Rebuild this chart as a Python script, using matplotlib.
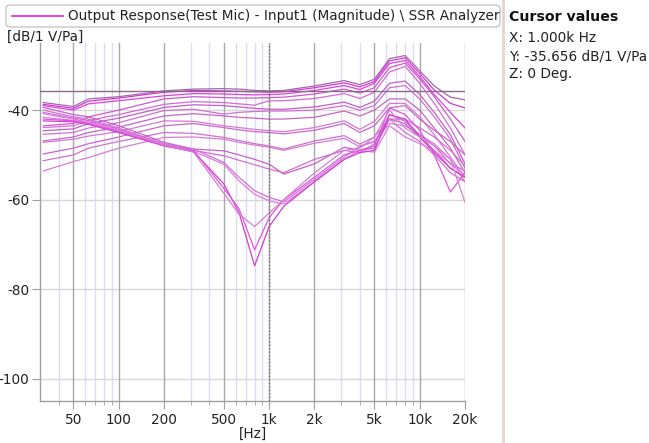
import matplotlib
matplotlib.use("Agg")
import matplotlib.pyplot as plt
from matplotlib.patches import FancyBboxPatch
from matplotlib.lines import Line2D
import numpy as np

W, H = 649, 443
freqs = [31.5, 50, 63, 100, 200, 315, 500, 630, 800, 1000, 1250, 2000, 3150,
         4000, 5000, 6300, 8000, 10000, 12500, 16000, 20000]

# upper family
A1 = [-38.3, -39.2, -37.5, -37.0, -35.7, -35.3, -35.2, -35.3, -35.6, -35.7, -35.6, -34.6, -33.4, -34.3, -33.1, -28.5, -27.8, -31.2, -34.6, -37.1, -37.7]
A2 = [-38.7, -39.6, -38.0, -37.3, -36.0, -35.6, -35.7, -35.8, -35.9, -36.0, -35.9, -35.0, -33.9, -34.8, -33.6, -29.0, -28.3, -31.8, -35.5, -38.5, -39.5]
A3 = [-39.0, -40.0, -38.6, -37.9, -36.8, -36.3, -36.4, -36.5, -36.6, -36.5, -36.4, -35.6, -34.5, -35.4, -34.0, -29.6, -28.9, -32.5, -36.5, -40.5, -44.0]
A4 = [-43.5, -43.0, -41.5, -40.0, -37.5, -37.0, -37.2, -37.3, -37.3, -37.2, -37.1, -36.4, -35.3, -36.2, -35.0, -30.5, -29.5, -33.0, -37.0, -42.0, -47.0]
A5 = [-43.9, -43.5, -42.3, -41.0, -38.7, -38.1, -38.3, -38.6, -38.9, -37.9, -37.9, -37.4, -36.3, -37.4, -36.0, -31.5, -30.2, -34.0, -38.5, -44.0, -50.0]
A6 = [-44.6, -44.2, -43.0, -41.8, -39.4, -38.8, -39.0, -39.3, -39.6, -39.8, -39.8, -39.3, -38.2, -39.4, -38.0, -34.0, -33.5, -36.5, -40.5, -45.5, -52.0]
A7 = [-45.4, -45.0, -44.0, -42.8, -40.1, -39.8, -40.9, -40.5, -40.3, -40.2, -40.2, -40.0, -39.0, -40.0, -39.0, -35.0, -34.5, -37.5, -41.5, -46.5, -53.0]
A8 = [-46.9, -46.0, -45.0, -43.8, -41.3, -40.8, -41.3, -41.6, -41.8, -42.0, -42.0, -41.6, -40.2, -41.3, -40.0, -37.5, -37.5, -40.0, -44.0, -48.5, -54.0]
A9 = [-47.2, -46.5, -45.8, -44.8, -42.4, -42.5, -43.5, -43.9, -44.3, -44.6, -44.8, -43.9, -42.4, -44.3, -42.5, -38.5, -38.5, -41.5, -45.5, -50.5, -55.0]
A10 = [-49.8, -48.5, -47.5, -46.0, -43.5, -43.0, -43.9, -44.4, -44.8, -45.0, -45.3, -44.5, -43.0, -45.0, -43.5, -39.5, -39.0, -42.0, -44.5, -47.0, -50.0]
A11 = [-51.3, -50.0, -48.5, -47.0, -45.0, -45.2, -46.1, -46.8, -47.5, -48.0, -48.7, -46.9, -45.7, -47.6, -46.0, -42.0, -42.0, -44.0, -46.0, -49.0, -52.5]
A12 = [-53.6, -51.5, -50.6, -48.5, -46.1, -46.0, -46.5, -47.2, -47.8, -48.3, -49.0, -47.4, -46.3, -48.2, -47.0, -43.0, -43.5, -45.5, -47.5, -51.0, -56.0]
# descending bundle
C1 = [-39.4, -41.0, -41.5, -43.5, -47.2, -48.7, -49.1, -50.0, -51.0, -52.1, -54.3, -52.0, -48.3, -49.0, -48.5, -42.0, -43.0, -46.0, -49.0, -53.0, -55.0]
C2 = [-40.0, -41.5, -42.0, -44.0, -47.6, -49.0, -50.2, -51.2, -52.2, -53.2, -54.0, -51.0, -49.0, -49.5, -47.5, -41.0, -42.5, -45.5, -48.0, -52.0, -53.5]
C3 = [-40.5, -41.8, -42.3, -44.3, -47.5, -48.7, -51.7, -55.0, -58.0, -59.5, -60.5, -55.5, -50.5, -48.0, -47.0, -42.0, -45.0, -47.0, -50.0, -54.0, -56.0]
C4 = [-41.6, -42.3, -42.8, -44.8, -47.8, -49.2, -52.1, -55.8, -58.8, -60.3, -61.0, -56.0, -51.0, -49.0, -49.4, -43.5, -46.0, -47.5, -49.0, -52.0, -54.5]
B1 = [-42.4, -42.6, -43.2, -45.0, -48.0, -49.3, -56.5, -62.9, -74.8, -66.0, -61.5, -56.0, -51.0, -49.5, -49.0, -41.0, -42.0, -46.0, -49.5, -53.0, -55.0]
B2 = [-42.0, -42.4, -43.0, -44.7, -47.9, -49.0, -57.5, -62.0, -71.2, -64.0, -60.0, -55.0, -50.0, -49.0, -48.0, -39.5, -41.0, -44.5, -50.0, -58.3, -54.0]
B3 = [-40.8, -42.0, -42.6, -44.5, -47.7, -49.4, -58.6, -63.3, -66.0, -63.0, -60.0, -54.0, -49.0, -48.5, -46.0, -40.0, -44.0, -46.0, -48.0, -51.0, -60.6]

series = [A1, A2, A3, A4, A5, A6, A7, A8, A9, A10, A11, A12, C1, C2, C3, C4, B1, B2, B3]
colors = ['#A06AA6', '#D437D4', '#E040E0', '#C85CC8', '#D86AD8', '#C060C8', '#D070D0',
          '#C865C8', '#D47AD4', '#CC66CC', '#D070D0', '#D67CD6', '#C860C8', '#D070D0',
          '#D070D8', '#E07AE0', '#D040D0', '#E055E0', '#D880D8']

major_x = [50, 100, 200, 500, 1000, 2000, 5000, 10000, 20000]
major_lbl = ['50', '100', '200', '500', '1k', '2k', '5k', '10k', '20k']
minor_x = [40, 60, 70, 80, 90, 300, 400, 600, 700, 800, 900,
           3000, 4000, 6000, 7000, 8000, 9000]
y_ticks = [-40, -60, -80, -100]
cursor_x = 1000
cursor_y = -35.656

FS = 9.8
plt.rcParams['font.family'] = ['DejaVu Sans']
fig = plt.figure(figsize=(W / 100, H / 100), dpi=100)

def fx(px):
    return px / W

def fy(py):
    return 1 - py / H

ax = fig.add_axes([fx(40), fy(401), fx(465) - fx(40), fy(43) - fy(401)])
ax.set_xscale('log')
ax.set_xlim(30, 20000)
ax.set_ylim(-105, -25)

for m in minor_x:
    ax.axvline(m, color='#DCDCF2', lw=1, zorder=0)
for m in major_x:
    ax.axvline(m, color='#A8A8A8', lw=1, zorder=0.5)
for t in y_ticks:
    ax.axhline(t, color='#D8D8D8', lw=1, zorder=0.4)

for s, c in zip(series, colors):
    ax.plot(freqs, s, color=c, lw=0.9, zorder=2)

ax.axhline(cursor_y, color='#8A6A8A', lw=1, zorder=3)
ax.axvline(cursor_x, color='#707070', lw=1, ls=(0, (1, 1.5)), zorder=3)

ax.set_xticks(major_x)
ax.set_xticklabels(major_lbl)
ax.set_xticks(minor_x, minor=True)
ax.xaxis.set_minor_formatter(matplotlib.ticker.NullFormatter())
ax.set_yticks(y_ticks)
ax.set_yticklabels([str(t) for t in y_ticks])
ax.tick_params(axis='both', which='major', length=6, color='#A0A0A0', labelsize=FS,
               labelcolor='#222222', pad=1.5)
ax.tick_params(axis='x', which='minor', length=3, color='#A0A0A0')
ax.tick_params(axis='x', which='major', pad=2.5)
for sp in ['top', 'right']:
    ax.spines[sp].set_visible(False)
for sp in ['left', 'bottom']:
    ax.spines[sp].set_color('#A0A0A0')
    ax.spines[sp].set_linewidth(1)

# legend box
box = FancyBboxPatch((fx(6), fy(27)), fx(494), fy(5) - fy(27),
                     boxstyle='round,pad=0,rounding_size=0.008', transform=fig.transFigure,
                     fc='white', ec='#C8C8C8', lw=1)
fig.patches.append(box)
fig.lines.append(Line2D([fx(12), fx(63)], [fy(16), fy(16)], color='#E020E0', lw=1.2,
                        transform=fig.transFigure))
fig.text(fx(68), fy(16), 'Output Response(Test Mic) - Input1 (Magnitude) \\ SSR Analyzer',
         fontsize=FS, va='center', ha='left', color='#222222')
fig.text(fx(7), fy(37), '[dB/1 V/Pa]', fontsize=FS, va='center', ha='left', color='#222222')
fig.text(fx(253), fy(434), '[Hz]', fontsize=FS, va='center', ha='center', color='#222222')

# right panel
fig.lines.append(Line2D([fx(502.5), fx(502.5)], [0, 1], color='#DCD8D0', lw=2,
                        transform=fig.transFigure))
fig.text(fx(509), fy(17), 'Cursor values', fontsize=FS + 0.4, fontweight='bold',
         va='center', ha='left', color='#111111')
fig.text(fx(509), fy(38), 'X: 1.000k Hz', fontsize=FS, va='center', ha='left', color='#222222')
fig.text(fx(509), fy(56), 'Y: -35.656 dB/1 V/Pa', fontsize=FS, va='center', ha='left', color='#222222')
fig.text(fx(509), fy(74), 'Z: 0 Deg.', fontsize=FS, va='center', ha='left', color='#222222')

fig.savefig('out.png', dpi=100)
